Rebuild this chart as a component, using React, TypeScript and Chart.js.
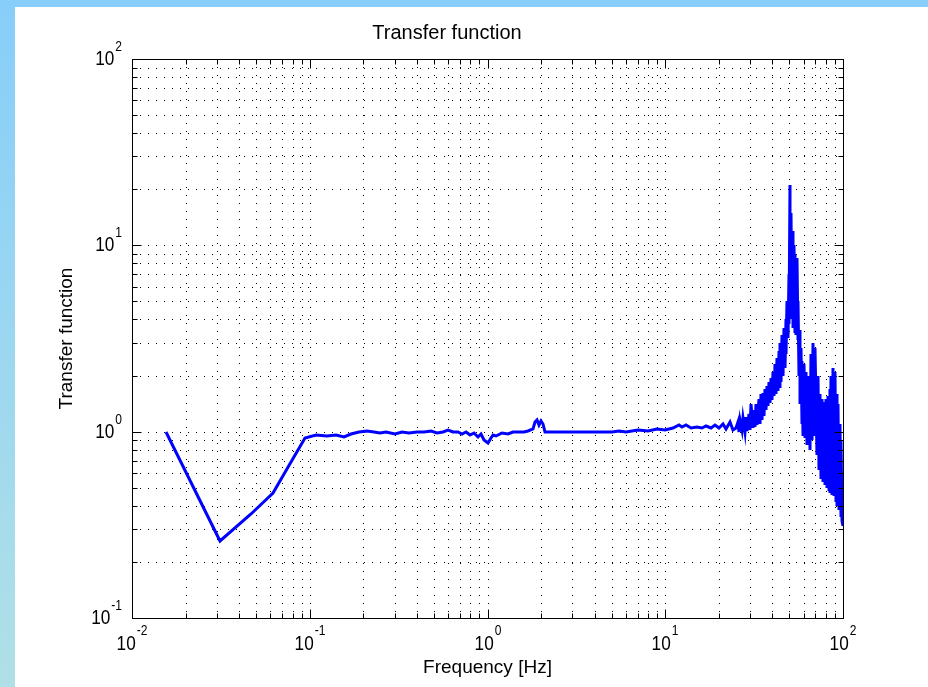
import React, { useEffect, useRef } from "react";
import { Chart, registerables } from "chart.js";

Chart.register(...registerables);

// ---- data ----
const freqHz: number[] = [
  0.015625, 0.03125, 0.046875, 0.0625, 0.078125, 0.09375, 0.109, 0.125, 0.14, 0.156,
  0.17, 0.19, 0.21, 0.23, 0.25, 0.27, 0.3, 0.33, 0.36, 0.4,
  0.44, 0.48, 0.52, 0.56, 0.6, 0.64, 0.68, 0.72, 0.76, 0.8,
  0.84, 0.88, 0.92, 0.96, 1.0, 1.04, 1.08, 1.12, 1.2, 1.3,
  1.4, 1.5, 1.6, 1.7, 1.8, 1.85, 1.9, 1.95, 2.0, 2.05,
  2.1, 2.2, 2.3, 2.5, 2.7, 3.0, 3.3, 3.6, 4.0, 4.5,
  5.0, 5.5, 6.0, 7.0, 8.0, 9.0, 10, 11, 12, 12.5,
  13, 14, 15, 16, 17, 18, 19, 20, 21, 22,
  23, 24, 25, 25.5, 26, 26.5, 27, 27.5, 28, 28.5,
  29, 29.5, 30, 30.5, 31, 31.5, 32, 32.5, 33, 33.5,
  34, 34.5, 35, 35.5, 36, 36.5, 37, 37.5, 38, 38.5,
  39, 39.5, 40, 40.5, 41, 41.5, 42, 42.5, 43, 43.5,
  44, 44.5, 45, 45.5, 46, 46.5, 47, 47.5, 48, 48.5,
  49, 49.5, 50, 50.3, 50.6, 51, 51.5, 52, 52.5, 53,
  53.5, 54, 54.5, 55, 55.5, 56, 56.5, 57, 57.5, 58,
  58.5, 59, 59.5, 60, 61, 62, 63, 64, 65, 66,
  67, 68, 69, 70, 71, 72, 73, 74, 75, 76,
  77, 78, 79, 80, 81, 82, 83, 84, 85, 86,
  87, 88, 89, 90, 91, 92, 93, 94, 95, 96,
  97, 98, 99, 100,
];

const transferMag: number[] = [
  1.0, 0.26, 0.36, 0.47, 0.69, 0.93, 0.96, 0.95, 0.96, 0.94,
  0.97, 0.99, 1.01, 1.0, 0.98, 0.99, 0.97, 1.0, 0.98, 1.0,
  0.99, 1.01, 0.98, 1.0, 1.02, 0.99, 1.0, 0.97, 0.99, 0.96,
  0.98, 0.94, 0.97, 0.9, 0.87, 0.93, 0.96, 0.95, 0.98, 0.97,
  0.99, 1.0, 1.0, 1.01, 1.03, 1.12, 1.15, 1.08, 1.14, 1.1,
  1.0, 0.99, 1.0, 0.99, 1.0, 1.0, 0.99, 1.0, 1.0, 0.99,
  1.0, 1.01, 1.0, 1.02, 1.01, 1.03, 1.02, 1.05, 1.09, 1.06,
  1.08, 1.05, 1.06, 1.04, 1.07, 1.05, 1.08, 1.04, 1.1, 1.03,
  1.12, 1.02, 1.05, 1.12, 1.0, 1.15, 1.02, 1.18, 1.0, 1.2,
  1.01, 1.25, 1.02, 1.4, 1.05, 1.3, 1.06, 1.4, 1.08, 1.5,
  1.1, 1.6, 1.15, 1.62, 1.22, 1.7, 1.3, 1.75, 1.38, 1.85,
  1.42, 1.95, 1.48, 2.1, 1.55, 2.3, 1.6, 2.5, 1.65, 2.7,
  1.72, 3.0, 1.85, 3.3, 2.0, 3.6, 2.2, 4.0, 2.6, 5.0,
  3.2, 7.0, 3.8, 21, 4.2, 15, 4.0, 12, 3.6, 10,
  3.4, 9, 3.3, 8.5, 3.1, 5, 2.0, 3.5, 1.4, 2.8,
  1.1, 2.4, 0.95, 2.3, 0.92, 2.1, 0.85, 2.0, 0.8, 2.6,
  0.9, 3.0, 0.95, 2.8, 0.75, 2.0, 0.62, 1.6, 0.56, 1.5,
  0.54, 1.45, 0.52, 1.5, 0.5, 1.55, 0.48, 1.7, 0.47, 2.0,
  0.46, 2.2, 0.45, 2.1, 0.42, 1.6, 0.4, 1.4, 0.38, 1.1,
  0.35, 0.9, 0.33, 0.31,
];

const xDecades: number[] = [0.01, 0.1, 1, 10, 100];
const xExponents: string[] = ["-2", "-1", "0", "1", "2"];
const yDecades: number[] = [0.1, 1, 10, 100];
const yExponents: string[] = ["-1", "0", "1", "2"];
const gridMultipliers: number[] = [1, 2, 3, 4, 5, 6, 7, 8, 9];

const titleText = "Transfer function";
const xTitleText = "Frequency [Hz]";
const yTitleText = "Transfer function";

const FONT = "'Liberation Sans', Arial, sans-serif";

function gridValues(decades: number[]): number[] {
  const out: number[] = [];
  for (let i = 0; i < decades.length - 1; i++) {
    for (const m of gridMultipliers) out.push(parseFloat((decades[i] * m).toPrecision(6)));
  }
  out.push(decades[decades.length - 1]);
  return out;
}

const xGrid = gridValues(xDecades);
const yGrid = gridValues(yDecades);

const SQUEEZE = 0.86;

function drawSqueezed(ctx: any, text: string, x: number, y: number, align: "left" | "right") {
  ctx.save();
  ctx.translate(x, y);
  ctx.scale(SQUEEZE, 1);
  ctx.textAlign = align;
  ctx.fillText(text, 0, 0);
  ctx.restore();
}

const matlabAxes = {
  id: "matlabAxes",
  afterDatasetsDraw(chart: any) {
    const { ctx, chartArea } = chart;
    const { left, right, top, bottom } = chartArea;
    const x = chart.scales.x;
    const y = chart.scales.y;
    const L = Math.round(left) + 0.5;
    const R = Math.round(right) + 0.5;
    const T = Math.round(top) + 0.5;
    const B = Math.round(bottom) + 0.5;
    ctx.save();
    ctx.strokeStyle = "#000";
    ctx.lineWidth = 1;
    ctx.setLineDash([]);
    ctx.beginPath();
    for (const v of xGrid) {
      const px = Math.round(x.getPixelForValue(v)) + 0.5;
      const len = xDecades.includes(v) ? 9 : 5;
      ctx.moveTo(px, B);
      ctx.lineTo(px, B - len);
      ctx.moveTo(px, T);
      ctx.lineTo(px, T + len);
    }
    for (const v of yGrid) {
      const py = Math.round(y.getPixelForValue(v)) + 0.5;
      const len = yDecades.includes(v) ? 9 : 5;
      ctx.moveTo(L, py);
      ctx.lineTo(L + len, py);
      ctx.moveTo(R, py);
      ctx.lineTo(R - len, py);
    }
    ctx.stroke();
    ctx.strokeRect(L, T, R - L, B - T);

    // tick labels: "10" with a superscript exponent
    ctx.fillStyle = "#000";
    ctx.textBaseline = "middle";
    const baseFont = `20px ${FONT}`;
    const expFont = `14px ${FONT}`;
    xDecades.forEach((v, i) => {
      const px = x.getPixelForValue(v);
      ctx.font = baseFont;
      const bw = ctx.measureText("10").width * SQUEEZE;
      ctx.font = expFont;
      const ew = ctx.measureText(xExponents[i]).width * SQUEEZE;
      const sx = px - (bw + ew + 1) / 2;
      ctx.font = baseFont;
      drawSqueezed(ctx, "10", sx, bottom + 26, "left");
      ctx.font = expFont;
      drawSqueezed(ctx, xExponents[i], sx + bw + 1, bottom + 13, "left");
    });
    yDecades.forEach((v, i) => {
      const py = y.getPixelForValue(v);
      ctx.font = expFont;
      const ew = ctx.measureText(yExponents[i]).width * SQUEEZE;
      drawSqueezed(ctx, yExponents[i], left - 10, py - 12, "right");
      ctx.font = baseFont;
      drawSqueezed(ctx, "10", left - 11 - ew, py, "right");
    });
    ctx.restore();
  },
};

export default function App() {
  const canvasRef = useRef<HTMLCanvasElement | null>(null);

  useEffect(() => {
    const canvas = canvasRef.current;
    if (!canvas) return;
    const points = freqHz.map((f, i) => ({ x: f, y: transferMag[i] }));
    const chart = new Chart(canvas, {
      type: "line",
      data: {
        datasets: [
          {
            data: points,
            borderColor: "#0000ff",
            borderWidth: 3,
            pointRadius: 0,
            tension: 0,
            fill: false,
          },
        ],
      },
      options: {
        responsive: false,
        animation: false,
        events: [],
        layout: { padding: { left: 36, right: 85, top: 0, bottom: 0 } },
        plugins: {
          legend: { display: false },
          tooltip: { enabled: false },
          title: {
            display: true,
            text: titleText,
            color: "#000",
            font: { family: FONT, size: 20, weight: "normal" },
            padding: { top: 14, bottom: 14 },
          },
        },
        scales: {
          x: {
            type: "logarithmic",
            position: "bottom",
            min: 0.01,
            max: 100,
            alignToPixels: true,
            afterBuildTicks: (scale: any) => {
              scale.ticks = xGrid.map((v) => ({ value: v }));
            },
            afterFit: (scale: any) => {
              scale.height = 69;
            },
            ticks: { display: false },
            grid: { color: "#000", lineWidth: 1, drawTicks: false },
            border: { display: false, dash: [1, 7] },
            title: {
              display: true,
              text: xTitleText,
              color: "#000",
              font: { family: FONT, size: 19, weight: "normal" },
              padding: { top: 0, bottom: 8 },
            },
          },
          y: {
            type: "logarithmic",
            position: "left",
            min: 0.1,
            max: 100,
            alignToPixels: true,
            afterBuildTicks: (scale: any) => {
              scale.ticks = yGrid.map((v) => ({ value: v }));
            },
            afterFit: (scale: any) => {
              scale.width = 81;
            },
            ticks: { display: false },
            grid: { color: "#000", lineWidth: 1, drawTicks: false },
            border: { display: false, dash: [1, 7] },
            title: {
              display: true,
              text: yTitleText,
              color: "#000",
              font: { family: FONT, size: 19, weight: "normal" },
              padding: { top: 4, bottom: 0 },
            },
          },
        },
      },
      plugins: [matlabAxes],
    } as any);
    return () => chart.destroy();
  }, []);

  return (
    <div
      style={{
        position: "fixed",
        left: 0,
        top: 0,
        width: 928,
        height: 687,
        overflow: "hidden",
        background: "linear-gradient(to bottom, #87cefa, #b0e0e6)",
      }}
    >
      <div
        style={{
          position: "absolute",
          left: 15,
          top: 7,
          width: 913,
          height: 680,
          background: "#ffffff",
        }}
      >
        <canvas ref={canvasRef} width={913} height={680} style={{ display: "block", width: 913, height: 680 }} />
      </div>
    </div>
  );
}
